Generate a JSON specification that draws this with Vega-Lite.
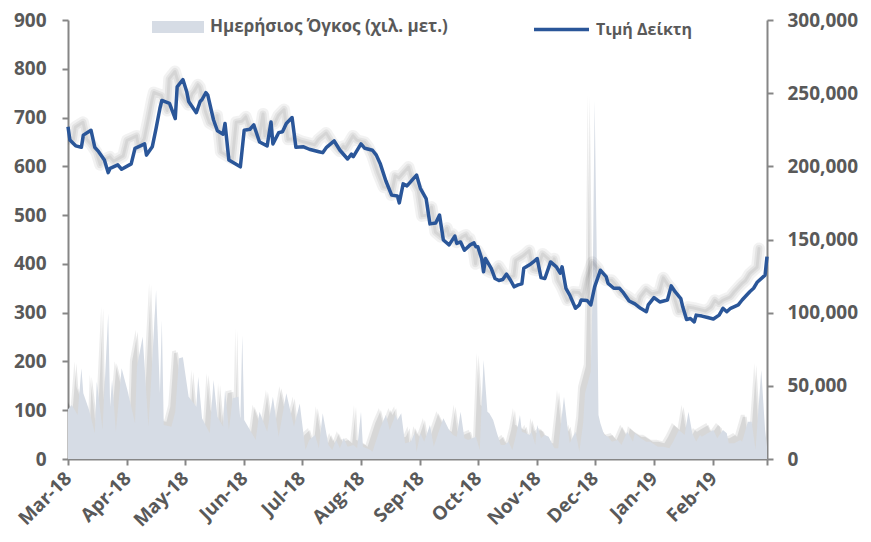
{
  "$schema": "https://vega.github.io/schema/vega-lite/v6.json",
  "autosize": {"type": "none"},
  "width": 699,
  "height": 439,
  "padding": {"left": 68, "top": 20, "right": 104, "bottom": 83},
  "background": "white",
  "config": {
    "font": "Open Sans",
    "view": {"stroke": null},
    "axis": {
      "domainColor": "#868686", "domainWidth": 2,
      "tickColor": "#868686", "tickWidth": 2, "tickSize": 6,
      "labelColor": "#595959", "labelFontSize": 19, "labelFontWeight": "bold",
      "labelFont": "Open Sans", "grid": false, "title": null
    }
  },
  "datasets": {
    "price": [
      {"date": "2018-03-01", "price": 681}, {"date": "2018-03-02", "price": 654}, {"date": "2018-03-05", "price": 642},
      {"date": "2018-03-08", "price": 639}, {"date": "2018-03-09", "price": 664}, {"date": "2018-03-13", "price": 674},
      {"date": "2018-03-15", "price": 639}, {"date": "2018-03-17", "price": 630}, {"date": "2018-03-20", "price": 613},
      {"date": "2018-03-22", "price": 587}, {"date": "2018-03-23", "price": 596}, {"date": "2018-03-27", "price": 603},
      {"date": "2018-03-29", "price": 594}, {"date": "2018-04-03", "price": 605}, {"date": "2018-04-05", "price": 637},
      {"date": "2018-04-10", "price": 646}, {"date": "2018-04-11", "price": 623}, {"date": "2018-04-14", "price": 640},
      {"date": "2018-04-16", "price": 678}, {"date": "2018-04-18", "price": 719}, {"date": "2018-04-19", "price": 735},
      {"date": "2018-04-23", "price": 729}, {"date": "2018-04-26", "price": 698}, {"date": "2018-04-27", "price": 763},
      {"date": "2018-04-30", "price": 778}, {"date": "2018-05-02", "price": 753}, {"date": "2018-05-03", "price": 733},
      {"date": "2018-05-07", "price": 710}, {"date": "2018-05-09", "price": 733}, {"date": "2018-05-10", "price": 737},
      {"date": "2018-05-12", "price": 751}, {"date": "2018-05-13", "price": 746}, {"date": "2018-05-16", "price": 695},
      {"date": "2018-05-18", "price": 673}, {"date": "2018-05-21", "price": 666}, {"date": "2018-05-22", "price": 688},
      {"date": "2018-05-24", "price": 613}, {"date": "2018-05-30", "price": 599}, {"date": "2018-06-01", "price": 674},
      {"date": "2018-06-04", "price": 676}, {"date": "2018-06-06", "price": 685}, {"date": "2018-06-09", "price": 650},
      {"date": "2018-06-13", "price": 642}, {"date": "2018-06-15", "price": 691}, {"date": "2018-06-16", "price": 646},
      {"date": "2018-06-19", "price": 669}, {"date": "2018-06-21", "price": 671}, {"date": "2018-06-23", "price": 688},
      {"date": "2018-06-26", "price": 700}, {"date": "2018-06-28", "price": 639}, {"date": "2018-07-02", "price": 640},
      {"date": "2018-07-05", "price": 635}, {"date": "2018-07-10", "price": 630}, {"date": "2018-07-12", "price": 628},
      {"date": "2018-07-14", "price": 639}, {"date": "2018-07-18", "price": 652}, {"date": "2018-07-21", "price": 633},
      {"date": "2018-07-25", "price": 615}, {"date": "2018-07-27", "price": 625}, {"date": "2018-07-28", "price": 620},
      {"date": "2018-08-01", "price": 646}, {"date": "2018-08-03", "price": 637}, {"date": "2018-08-07", "price": 633},
      {"date": "2018-08-09", "price": 623}, {"date": "2018-08-11", "price": 606}, {"date": "2018-08-14", "price": 570},
      {"date": "2018-08-17", "price": 541}, {"date": "2018-08-20", "price": 539}, {"date": "2018-08-21", "price": 525},
      {"date": "2018-08-23", "price": 564}, {"date": "2018-08-25", "price": 560}, {"date": "2018-08-30", "price": 582},
      {"date": "2018-09-01", "price": 555}, {"date": "2018-09-04", "price": 534}, {"date": "2018-09-06", "price": 482},
      {"date": "2018-09-09", "price": 484}, {"date": "2018-09-11", "price": 500}, {"date": "2018-09-13", "price": 449},
      {"date": "2018-09-16", "price": 439}, {"date": "2018-09-19", "price": 457}, {"date": "2018-09-20", "price": 442},
      {"date": "2018-09-22", "price": 445}, {"date": "2018-09-24", "price": 428}, {"date": "2018-09-27", "price": 439},
      {"date": "2018-09-29", "price": 443}, {"date": "2018-09-30", "price": 435}, {"date": "2018-10-01", "price": 435},
      {"date": "2018-10-03", "price": 411}, {"date": "2018-10-04", "price": 384}, {"date": "2018-10-05", "price": 411},
      {"date": "2018-10-08", "price": 391}, {"date": "2018-10-10", "price": 370}, {"date": "2018-10-12", "price": 366},
      {"date": "2018-10-14", "price": 368}, {"date": "2018-10-16", "price": 379}, {"date": "2018-10-18", "price": 367},
      {"date": "2018-10-20", "price": 353}, {"date": "2018-10-22", "price": 357}, {"date": "2018-10-24", "price": 359},
      {"date": "2018-10-25", "price": 391}, {"date": "2018-10-28", "price": 398}, {"date": "2018-10-30", "price": 404},
      {"date": "2018-11-01", "price": 411}, {"date": "2018-11-03", "price": 372}, {"date": "2018-11-05", "price": 370},
      {"date": "2018-11-08", "price": 404}, {"date": "2018-11-11", "price": 394}, {"date": "2018-11-13", "price": 381},
      {"date": "2018-11-14", "price": 394}, {"date": "2018-11-16", "price": 350}, {"date": "2018-11-18", "price": 336},
      {"date": "2018-11-21", "price": 309}, {"date": "2018-11-23", "price": 316}, {"date": "2018-11-24", "price": 326},
      {"date": "2018-11-27", "price": 325}, {"date": "2018-11-29", "price": 316}, {"date": "2018-12-01", "price": 353},
      {"date": "2018-12-04", "price": 387}, {"date": "2018-12-07", "price": 374}, {"date": "2018-12-08", "price": 360},
      {"date": "2018-12-11", "price": 350}, {"date": "2018-12-14", "price": 350}, {"date": "2018-12-16", "price": 341},
      {"date": "2018-12-19", "price": 324}, {"date": "2018-12-22", "price": 318}, {"date": "2018-12-25", "price": 309},
      {"date": "2018-12-28", "price": 302}, {"date": "2018-12-29", "price": 316}, {"date": "2019-01-01", "price": 331},
      {"date": "2019-01-04", "price": 322}, {"date": "2019-01-06", "price": 324}, {"date": "2019-01-08", "price": 326},
      {"date": "2019-01-10", "price": 355}, {"date": "2019-01-12", "price": 343}, {"date": "2019-01-15", "price": 329},
      {"date": "2019-01-16", "price": 312}, {"date": "2019-01-18", "price": 286}, {"date": "2019-01-20", "price": 288},
      {"date": "2019-01-22", "price": 281}, {"date": "2019-01-23", "price": 295}, {"date": "2019-01-26", "price": 293},
      {"date": "2019-01-29", "price": 290}, {"date": "2019-02-01", "price": 287}, {"date": "2019-02-04", "price": 295},
      {"date": "2019-02-06", "price": 309}, {"date": "2019-02-08", "price": 302}, {"date": "2019-02-10", "price": 309},
      {"date": "2019-02-14", "price": 316}, {"date": "2019-02-16", "price": 326}, {"date": "2019-02-20", "price": 343},
      {"date": "2019-02-22", "price": 350}, {"date": "2019-02-24", "price": 363}, {"date": "2019-02-28", "price": 377},
      {"date": "2019-03-01", "price": 415}
    ],
    "volume": [
      {"date": "2018-03-01", "volume": 34000}, {"date": "2018-03-03", "volume": 36900}, {"date": "2018-03-06", "volume": 30100},
      {"date": "2018-03-08", "volume": 62000}, {"date": "2018-03-09", "volume": 44900}, {"date": "2018-03-12", "volume": 33500},
      {"date": "2018-03-15", "volume": 17600}, {"date": "2018-03-16", "volume": 52800}, {"date": "2018-03-17", "volume": 42600},
      {"date": "2018-03-19", "volume": 19800}, {"date": "2018-03-22", "volume": 99600}, {"date": "2018-03-23", "volume": 35700},
      {"date": "2018-03-24", "volume": 54000}, {"date": "2018-03-26", "volume": 18700}, {"date": "2018-03-28", "volume": 47200},
      {"date": "2018-03-29", "volume": 62000}, {"date": "2018-04-01", "volume": 47200}, {"date": "2018-04-05", "volume": 24400},
      {"date": "2018-04-06", "volume": 63100}, {"date": "2018-04-09", "volume": 83600}, {"date": "2018-04-12", "volume": 22100},
      {"date": "2018-04-13", "volume": 43700}, {"date": "2018-04-16", "volume": 115500}, {"date": "2018-04-18", "volume": 44900},
      {"date": "2018-04-19", "volume": 95000}, {"date": "2018-04-20", "volume": 23200}, {"date": "2018-04-24", "volume": 22100},
      {"date": "2018-04-26", "volume": 32300}, {"date": "2018-04-28", "volume": 68800}, {"date": "2018-04-30", "volume": 69500},
      {"date": "2018-05-03", "volume": 42600}, {"date": "2018-05-07", "volume": 35700}, {"date": "2018-05-08", "volume": 56200},
      {"date": "2018-05-10", "volume": 27800}, {"date": "2018-05-14", "volume": 17600}, {"date": "2018-05-16", "volume": 54000},
      {"date": "2018-05-18", "volume": 28900}, {"date": "2018-05-21", "volume": 22100}, {"date": "2018-05-22", "volume": 47200},
      {"date": "2018-05-24", "volume": 19800}, {"date": "2018-05-26", "volume": 41500}, {"date": "2018-05-29", "volume": 42600},
      {"date": "2018-05-30", "volume": 26700}, {"date": "2018-05-31", "volume": 84700}, {"date": "2018-06-01", "volume": 26700},
      {"date": "2018-06-05", "volume": 17600}, {"date": "2018-06-07", "volume": 13000}, {"date": "2018-06-09", "volume": 32300},
      {"date": "2018-06-13", "volume": 18700}, {"date": "2018-06-16", "volume": 42600}, {"date": "2018-06-19", "volume": 15200},
      {"date": "2018-06-23", "volume": 44900}, {"date": "2018-06-27", "volume": 22100}, {"date": "2018-06-30", "volume": 38000},
      {"date": "2018-07-03", "volume": 6150}, {"date": "2018-07-05", "volume": 13000}, {"date": "2018-07-08", "volume": 16400},
      {"date": "2018-07-10", "volume": 7300}, {"date": "2018-07-12", "volume": 31200}, {"date": "2018-07-15", "volume": 9600},
      {"date": "2018-07-17", "volume": 6150}, {"date": "2018-07-19", "volume": 13000}, {"date": "2018-07-21", "volume": 7300},
      {"date": "2018-07-23", "volume": 14100}, {"date": "2018-07-25", "volume": 8400}, {"date": "2018-07-28", "volume": 9600},
      {"date": "2018-07-30", "volume": 7300}, {"date": "2018-08-01", "volume": 32300}, {"date": "2018-08-02", "volume": 8400},
      {"date": "2018-08-06", "volume": 6150}, {"date": "2018-08-07", "volume": 5000}, {"date": "2018-08-11", "volume": 21000},
      {"date": "2018-08-14", "volume": 30100}, {"date": "2018-08-16", "volume": 19800}, {"date": "2018-08-19", "volume": 30100},
      {"date": "2018-08-20", "volume": 26700}, {"date": "2018-08-22", "volume": 31200}, {"date": "2018-08-24", "volume": 10700},
      {"date": "2018-08-27", "volume": 11800}, {"date": "2018-08-29", "volume": 17600}, {"date": "2018-08-30", "volume": 5000},
      {"date": "2018-09-01", "volume": 17600}, {"date": "2018-09-03", "volume": 11800}, {"date": "2018-09-06", "volume": 23200},
      {"date": "2018-09-08", "volume": 8400}, {"date": "2018-09-10", "volume": 16400}, {"date": "2018-09-13", "volume": 27800},
      {"date": "2018-09-16", "volume": 19800}, {"date": "2018-09-18", "volume": 16400}, {"date": "2018-09-20", "volume": 15200},
      {"date": "2018-09-22", "volume": 32300}, {"date": "2018-09-24", "volume": 14100}, {"date": "2018-09-26", "volume": 13000},
      {"date": "2018-09-30", "volume": 15200}, {"date": "2018-10-02", "volume": 6150}, {"date": "2018-10-04", "volume": 67700},
      {"date": "2018-10-06", "volume": 32300}, {"date": "2018-10-07", "volume": 31200}, {"date": "2018-10-09", "volume": 26700},
      {"date": "2018-10-11", "volume": 17600}, {"date": "2018-10-13", "volume": 9600}, {"date": "2018-10-15", "volume": 9600},
      {"date": "2018-10-17", "volume": 11800}, {"date": "2018-10-19", "volume": 6150}, {"date": "2018-10-21", "volume": 16400},
      {"date": "2018-10-23", "volume": 30100}, {"date": "2018-10-24", "volume": 18700}, {"date": "2018-10-26", "volume": 17600},
      {"date": "2018-10-28", "volume": 16400}, {"date": "2018-10-29", "volume": 18700}, {"date": "2018-10-31", "volume": 9600},
      {"date": "2018-11-01", "volume": 23200}, {"date": "2018-11-03", "volume": 14100}, {"date": "2018-11-05", "volume": 16400},
      {"date": "2018-11-07", "volume": 15200}, {"date": "2018-11-10", "volume": 7300}, {"date": "2018-11-12", "volume": 7300},
      {"date": "2018-11-15", "volume": 42600}, {"date": "2018-11-17", "volume": 19800}, {"date": "2018-11-18", "volume": 10700},
      {"date": "2018-11-21", "volume": 18700}, {"date": "2018-11-23", "volume": 5000}, {"date": "2018-11-25", "volume": 24400},
      {"date": "2018-11-26", "volume": 44900}, {"date": "2018-11-29", "volume": 60000}, {"date": "2018-11-30", "volume": 120000},
      {"date": "2018-12-01", "volume": 245000}, {"date": "2018-12-02", "volume": 150000}, {"date": "2018-12-03", "volume": 30000},
      {"date": "2018-12-04", "volume": 24400}, {"date": "2018-12-06", "volume": 16400}, {"date": "2018-12-08", "volume": 15200},
      {"date": "2018-12-10", "volume": 11800}, {"date": "2018-12-13", "volume": 13000}, {"date": "2018-12-15", "volume": 9600},
      {"date": "2018-12-18", "volume": 18700}, {"date": "2018-12-21", "volume": 11800}, {"date": "2018-12-22", "volume": 17600},
      {"date": "2018-12-25", "volume": 14100}, {"date": "2018-12-28", "volume": 11800}, {"date": "2018-12-30", "volume": 11800},
      {"date": "2019-01-03", "volume": 8400}, {"date": "2019-01-06", "volume": 8400}, {"date": "2019-01-09", "volume": 7300},
      {"date": "2019-01-11", "volume": 11800}, {"date": "2019-01-14", "volume": 19800}, {"date": "2019-01-17", "volume": 16400},
      {"date": "2019-01-19", "volume": 32300}, {"date": "2019-01-21", "volume": 17600}, {"date": "2019-01-23", "volume": 11800},
      {"date": "2019-01-25", "volume": 16400}, {"date": "2019-01-26", "volume": 15200}, {"date": "2019-01-29", "volume": 17600},
      {"date": "2019-02-01", "volume": 19800}, {"date": "2019-02-03", "volume": 14100}, {"date": "2019-02-06", "volume": 19800},
      {"date": "2019-02-08", "volume": 17600}, {"date": "2019-02-09", "volume": 10700}, {"date": "2019-02-12", "volume": 10700},
      {"date": "2019-02-15", "volume": 13000}, {"date": "2019-02-16", "volume": 11800}, {"date": "2019-02-19", "volume": 25500},
      {"date": "2019-02-21", "volume": 25500}, {"date": "2019-02-23", "volume": 6150}, {"date": "2019-02-26", "volume": 60800},
      {"date": "2019-02-28", "volume": 19800}, {"date": "2019-03-01", "volume": 8400}
    ]
  },
  "encoding": {
    "x": {
      "field": "date", "type": "temporal",
      "scale": {"type": "utc", "domain": [{"year": 2018, "month": 3, "date": 1, "utc": true}, {"year": 2019, "month": 3, "date": 1, "utc": true}]},
      "axis": {
        "values": [
          {"year": 2018, "month": 3, "date": 1, "utc": true}, {"year": 2018, "month": 4, "date": 1, "utc": true},
          {"year": 2018, "month": 5, "date": 1, "utc": true}, {"year": 2018, "month": 6, "date": 1, "utc": true},
          {"year": 2018, "month": 7, "date": 1, "utc": true}, {"year": 2018, "month": 8, "date": 1, "utc": true},
          {"year": 2018, "month": 9, "date": 1, "utc": true}, {"year": 2018, "month": 10, "date": 1, "utc": true},
          {"year": 2018, "month": 11, "date": 1, "utc": true}, {"year": 2018, "month": 12, "date": 1, "utc": true},
          {"year": 2019, "month": 1, "date": 1, "utc": true}, {"year": 2019, "month": 2, "date": 1, "utc": true},
          {"year": 2019, "month": 3, "date": 1, "utc": true}
        ],
        "labelExpr": "datum.value > 1550000000000 ? '' : utcFormat(datum.value, '%b-%y')",
        "labelAngle": -45, "labelAlign": "right", "labelBaseline": "middle",
        "labelPadding": 10, "labelFontSize": 19, "labelOverlap": false, "labelBound": false, "labelFlush": false
      }
    }
  },
  "layer": [
    {
      "data": {"name": "volume"},
      "encoding": {
        "y": {
          "field": "volume", "type": "quantitative", "scale": {"domain": [0, 300000]},
          "axis": {"orient": "right", "values": [0, 50000, 100000, 150000, 200000, 250000, 300000], "labelExpr": "format(datum.value, ',')", "labelPadding": 14}
        }
      },
      "layer": [
        {"mark": {"type": "area", "fill": "#000000", "opacity": 0.07, "xOffset": -7, "yOffset": -7, "clip": true}},
        {"mark": {"type": "area", "fill": "#000000", "opacity": 0.09, "xOffset": -5, "yOffset": -5, "clip": true}},
        {
          "mark": {"type": "area", "opacity": 1},
          "encoding": {
            "fill": {
              "datum": "Ημερήσιος Όγκος (χιλ. μετ.)",
              "scale": {"range": ["#D6DCE5"]},
              "legend": {
                "orient": "none", "legendX": 84, "legendY": -19, "title": null, "padding": 0,
                "symbolType": "M-1,-0.23H1V0.23H-1Z", "symbolSize": 2704, "symbolStrokeWidth": 0, "symbolOpacity": 1,
                "labelFontSize": 17, "labelFontWeight": "bold", "labelColor": "#595959", "labelFont": "Open Sans",
                "labelOffset": 6, "labelLimit": 0
              }
            }
          }
        }
      ]
    },
    {
      "data": {"name": "price"},
      "encoding": {
        "y": {
          "field": "price", "type": "quantitative", "scale": {"domain": [0, 900]},
          "axis": {"orient": "left", "values": [0, 100, 200, 300, 400, 500, 600, 700, 800, 900], "labelPadding": 16}
        }
      },
      "layer": [
        {"mark": {"type": "line", "stroke": "#000000", "opacity": 0.05, "strokeWidth": 12, "xOffset": -8, "yOffset": -8, "strokeJoin": "round", "strokeCap": "round", "clip": true}},
        {"mark": {"type": "line", "stroke": "#000000", "opacity": 0.06, "strokeWidth": 7, "xOffset": -8, "yOffset": -8, "strokeJoin": "round", "strokeCap": "round", "clip": true}},
        {"mark": {"type": "line", "stroke": "#000000", "opacity": 0.06, "strokeWidth": 3, "xOffset": -8, "yOffset": -8, "strokeJoin": "round", "strokeCap": "round", "clip": true}},
        {
          "mark": {"type": "line", "strokeWidth": 3.5, "strokeJoin": "round"},
          "encoding": {
            "stroke": {
              "datum": "Τιμή Δείκτη",
              "scale": {"range": ["#2A5699"]},
              "legend": {
                "orient": "none", "legendX": 464, "legendY": -20, "title": null, "padding": 0,
                "symbolType": "stroke", "symbolSize": 3025, "symbolStrokeWidth": 3.5,
                "labelFontSize": 16, "labelFontWeight": "bold", "labelColor": "#595959", "labelFont": "Open Sans",
                "labelOffset": 5, "labelLimit": 0
              }
            }
          }
        }
      ]
    }
  ],
  "resolve": {"scale": {"y": "independent"}}
}
